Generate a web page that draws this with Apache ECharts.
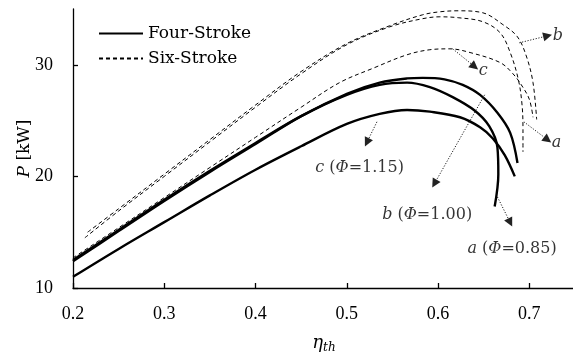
<!DOCTYPE html>
<html>
<head>
<meta charset="utf-8">
<script src="https://cdn.jsdelivr.net/npm/echarts@6/dist/echarts.min.js"></script>
<style>
  html, body { margin: 0; padding: 0; background: #ffffff; }
  #chart { width: 573px; height: 354px; }
</style>
</head>
<body>
<div id="chart"></div>
<script>
// Brake power P [kW] against thermal efficiency for three equivalence ratios.
// Each point is [eta_th, P].
const fourStrokeA = [
  [0.2, 12.5], [0.25, 15.2], [0.3, 17.9], [0.35, 20.5], [0.4, 23.0], [0.45, 25.4],
  [0.5, 27.3], [0.536, 28.2], [0.566, 28.4], [0.591, 28.0], [0.616, 27.1],
  [0.64, 25.9], [0.656, 24.5], [0.665, 22.6], [0.666, 20.2], [0.662, 17.3]
];
const fourStrokeB = [
  [0.2, 12.4], [0.25, 15.1], [0.3, 17.8], [0.35, 20.4], [0.4, 22.9], [0.45, 25.4],
  [0.5, 27.4], [0.536, 28.4], [0.566, 28.78], [0.583, 28.83], [0.607, 28.7],
  [0.627, 28.2], [0.646, 27.3], [0.665, 25.7], [0.679, 23.9], [0.687, 21.2]
];
const fourStrokeC = [
  [0.2, 11.0], [0.25, 13.5], [0.3, 15.9], [0.35, 18.3], [0.4, 20.6], [0.45, 22.7],
  [0.5, 24.7], [0.536, 25.6], [0.566, 25.95], [0.591, 25.8], [0.624, 25.3],
  [0.646, 24.4], [0.66, 23.4], [0.673, 21.9], [0.684, 20.0]
];
const sixStrokeA = [
  [0.213, 14.5], [0.25, 16.9], [0.3, 20.0], [0.35, 23.1], [0.4, 26.2], [0.45, 29.2],
  [0.5, 31.8], [0.547, 33.4], [0.583, 34.13], [0.602, 34.3], [0.622, 34.22],
  [0.649, 33.86], [0.668, 32.87], [0.679, 31.1], [0.688, 28.65], [0.692, 26.4],
  [0.693, 24.2], [0.693, 22.2]
];
const sixStrokeB = [
  [0.216, 15.0], [0.25, 17.1], [0.3, 20.2], [0.35, 23.3], [0.4, 26.4], [0.45, 29.4],
  [0.5, 31.9], [0.547, 33.5], [0.583, 34.48], [0.602, 34.75], [0.622, 34.84],
  [0.649, 34.66], [0.671, 33.6], [0.687, 32.5], [0.697, 30.7], [0.704, 28.4], [0.708, 25.1]
];
const sixStrokeC = [
  [0.2, 12.7], [0.25, 15.4], [0.3, 18.1], [0.35, 20.8], [0.4, 23.5], [0.45, 26.2],
  [0.492, 28.4], [0.529, 29.7], [0.566, 30.9], [0.591, 31.35], [0.613, 31.43],
  [0.635, 31.1], [0.668, 30.2], [0.682, 29.2], [0.692, 28.1], [0.7, 26.9], [0.704, 25.3]
];

// tick labels
const xTicks = [0.2, 0.3, 0.4, 0.5, 0.6, 0.7];
const yTicks = [10, 20, 30];

// callout arrows: [start, arrowhead centre]
const arrowsFour = [
  [[0.651, 27.31], [0.596, 19.35]],
  [[0.665, 18.16], [0.679, 15.87]],
  [[0.533, 24.89], [0.522, 23.05]]
];
const arrowsSix = [
  [[0.616, 31.43], [0.640, 29.84]],
  [[0.689, 31.97], [0.720, 32.60]],
  [[0.694, 24.89], [0.720, 23.28]]
];
// callout texts: [eta, P, text, align]
const calloutsFour = [
  [0.588, 16.6, '{i|b} ({i|Φ}=1.00)', 'center'],
  [0.681, 13.55, '{i|a} ({i|Φ}=0.85)', 'center'],
  [0.514, 20.8, '{i|c} ({i|Φ}=1.15)', 'center']
];
const calloutsSix = [
  [0.6445, 29.46, '{i|c}', 'left'],
  [0.7255, 32.6, '{i|b}', 'left'],
  [0.7245, 23.0, '{i|a}', 'left']
];

const serif = 'DejaVu Serif';
const tickFont = 'Liberation Serif';

function curve(name, data, dashed) {
  return {
    name: name,
    type: 'line',
    data: data,
    symbol: 'none',
    showSymbol: false,
    smooth: 0.35,
    silent: true,
    itemStyle: { color: '#000' },
    lineStyle: dashed
      ? { color: '#000', width: 1, type: [4, 3] }
      : { color: '#000', width: 2.4, type: 'solid' },
    z: dashed ? 3 : 4
  };
}

function arrows(list) {
  return {
    name: 'callouts',
    type: 'line',
    data: [],
    silent: true,
    markLine: {
      silent: true,
      animation: false,
      symbol: ['none', 'triangle'],
      symbolSize: 9,
      label: { show: false },
      lineStyle: { color: '#222', width: 1, type: [1.2, 1.6] },
      emphasis: { disabled: true },
      data: list.map(a => [{ coord: a[0] }, { coord: a[1] }])
    }
  };
}

function labels(list) {
  return {
    name: 'labels',
    type: 'scatter',
    silent: true,
    symbolSize: 0,
    data: list.map(l => ({
      value: [l[0], l[1]],
      label: {
        show: true,
        position: 'inside',
        align: l[3],
        verticalAlign: 'middle',
        formatter: l[2],
        fontFamily: serif,
        fontSize: 16,
        color: '#000',
        rich: { i: { fontFamily: serif, fontStyle: 'italic', fontSize: 16, color: '#000' } }
      }
    }))
  };
}

const chart = echarts.init(document.getElementById('chart'), null, { renderer: 'canvas' });
chart.setOption({
  animation: false,
  backgroundColor: '#ffffff',
  grid: { left: 73, right: -2, top: 9, bottom: 66, containLabel: false, outerBoundsMode: 'none' },
  legend: {
    data: ['Four-Stroke', 'Six-Stroke'],
    orient: 'vertical',
    left: 98,
    top: 25,
    padding: 0,
    itemWidth: 44,
    itemHeight: 14,
    itemGap: 8,
    selectedMode: false,
    itemStyle: { opacity: 0 },
    textStyle: { fontFamily: serif, fontSize: 17, color: '#000' }
  },
  xAxis: {
    type: 'value',
    min: 0.2,
    max: 0.75,
    interval: 0.1,
    name: '{i|η}{s|th}',
    nameLocation: 'middle',
    nameGap: 44,
    nameTextStyle: {
      rich: {
        i: { fontFamily: serif, fontStyle: 'italic', fontSize: 18, color: '#000' },
        s: { fontFamily: serif, fontStyle: 'italic', fontSize: 12, color: '#000', padding: [10, 0, 0, 0] }
      }
    },
    axisLine: { lineStyle: { color: '#000', width: 1.3 } },
    axisTick: { inside: true, length: 5, lineStyle: { color: '#000', width: 1.3 }, customValues: xTicks },
    axisLabel: {
      customValues: xTicks,
      margin: 17,
      fontFamily: tickFont,
      fontSize: 18,
      color: '#000',
      formatter: v => v.toFixed(1)
    },
    splitLine: { show: false }
  },
  yAxis: {
    type: 'value',
    min: 10,
    max: 35,
    interval: 10,
    name: '{i|P} [kW]',
    nameLocation: 'middle',
    nameGap: 40,
    nameMoveOverlap: false,
    nameTextStyle: {
      fontFamily: serif, fontSize: 17, color: '#000',
      rich: { i: { fontFamily: serif, fontStyle: 'italic', fontSize: 17, color: '#000' } }
    },
    axisLine: { lineStyle: { color: '#000', width: 1.3 } },
    axisTick: { inside: true, length: 5, lineStyle: { color: '#000', width: 1.3 }, customValues: yTicks },
    axisLabel: {
      customValues: yTicks,
      margin: 20,
      fontFamily: tickFont,
      fontSize: 18,
      color: '#000'
    },
    splitLine: { show: false }
  },
  series: [
    curve('Four-Stroke', fourStrokeA, false),
    curve('Four-Stroke', fourStrokeB, false),
    curve('Four-Stroke', fourStrokeC, false),
    curve('Six-Stroke', sixStrokeA, true),
    curve('Six-Stroke', sixStrokeB, true),
    curve('Six-Stroke', sixStrokeC, true),
    arrows(arrowsFour),
    arrows(arrowsSix),
    labels(calloutsFour),
    labels(calloutsSix)
  ]
});
</script>
</body>
</html>
